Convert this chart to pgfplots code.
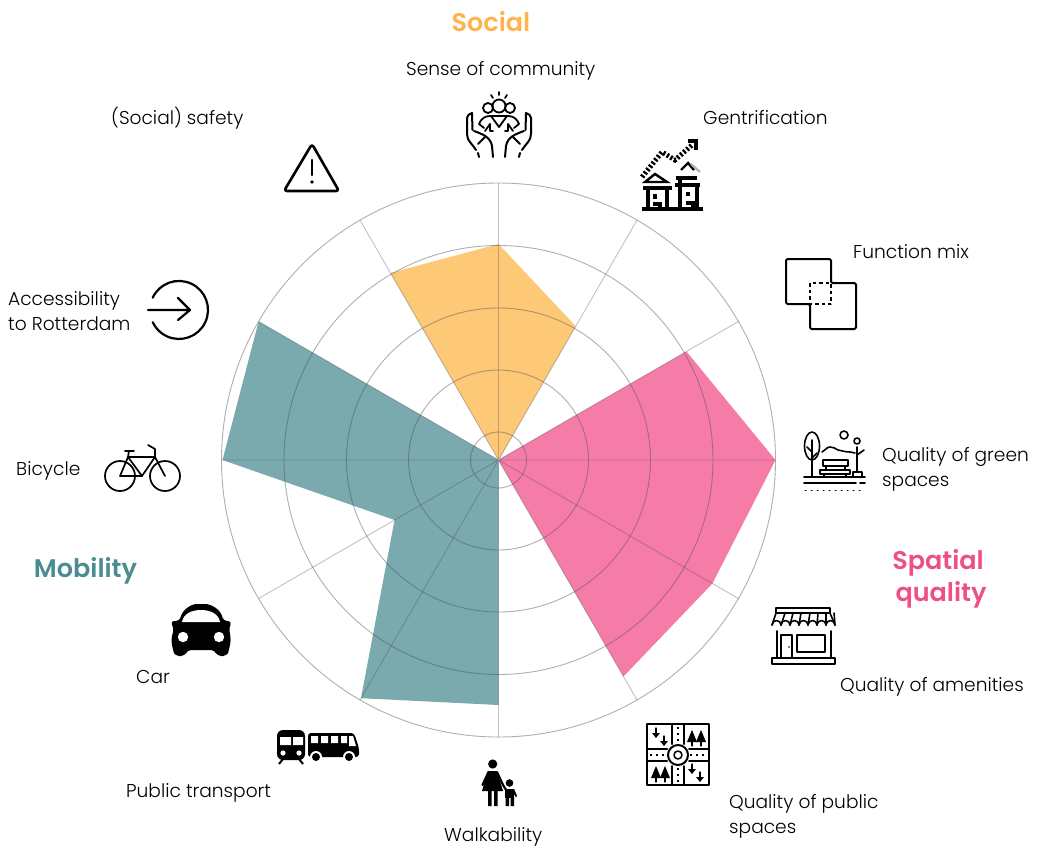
\documentclass[border=0pt]{standalone}
\usepackage{fontspec}
\setmainfont{Poppins Light}[BoldFont={Poppins SemiBold}]
\usepackage{pgfplots}
\pgfplotsset{compat=1.18}
\usepgfplotslibrary{polar}
\definecolor{socialfill}{HTML}{FDC977}
\definecolor{spatialfill}{HTML}{F57CA7}
\definecolor{mobfill}{HTML}{7AA9AE}
\definecolor{socialhead}{HTML}{FFB24E}
\definecolor{spatialhead}{HTML}{EE4F86}
\definecolor{mobhead}{HTML}{4B8B92}
\definecolor{gridc}{HTML}{4C4C5E}
\newcommand{\lab}[3]{\node[anchor=base west,inner sep=0pt,font=\fontsize{18.6}{18.6}\selectfont,text=black] at (#1,#2) {#3};}
\newcommand{\head}[4]{\node[anchor=base,inner sep=0pt,font=\fontsize{25.5}{25.5}\selectfont\bfseries,text=#4] at (#1,#2) {#3};}

\begin{document}
\begin{tikzpicture}
\path[use as bounding box] (0pt,0pt) rectangle (1046pt,-846pt);
\begin{polaraxis}[
    at={(498.5pt,-460pt)},
    anchor=center,
    scale only axis,
    width=554pt,
    height=554pt,
    xmin=0, xmax=360,
    ymin=0, ymax=277,
    xtick={0,30,...,330},
    ytick={28,90,152,214.5},
    xticklabels={},
    yticklabels={},
    major tick length=0pt,
    grid=major,
    clip=false,
    axis on top,
    axis line style={draw=gridc,draw opacity=0.45,line width=0.9pt},
    y axis line style={draw=none},
    major x grid style={draw=gridc,draw opacity=0.35,line width=0.9pt},
    major y grid style={draw=gridc,draw opacity=0.45,line width=0.9pt},
]
% social
\addplot[fill=socialfill,draw=none] coordinates {
    (0,0) (120,216) (90,216) (60,154.5)
} -- cycle;
% spatial quality
\addplot[fill=spatialfill,draw=none] coordinates {
    (0,0) (30,217) (0,277) (-30,247) (-60,250)
} -- cycle;
% mobility
\addplot[fill=mobfill,draw=none] coordinates {
    (0,0) (-90,245) (-120,275) (-150,120) (180,276) (150,277)
} -- cycle;
\end{polaraxis}

\begin{scope}[x=1pt,y=-1pt]
\head{491}{31}{Social}{socialhead}
\head{938}{569}{Spatial}{spatialhead}
\head{941}{601}{quality}{spatialhead}
\head{85.5}{577}{Mobility}{mobhead}

\lab{406}{75}{Sense of community}
\lab{111}{124}{(Social) safety}
\lab{703}{124}{Gentrification}
\lab{853}{258}{Function mix}
\lab{882}{461}{Quality of green}
\lab{882}{486}{spaces}
\lab{840}{691}{Quality of amenities}
\lab{729}{808}{Quality of public}
\lab{729}{833}{spaces}
\lab{444}{841}{Walkability}
\lab{126}{797}{Public transport}
\lab{136}{683}{Car}
\lab{16}{475}{Bicycle}
\lab{8}{305}{Accessibility}
\lab{8}{330}{to Rotterdam}

% icons, in picture pixels
\begin{scope}[line width=1.7pt,line cap=round,line join=round,black]
% community
\foreach \s in {1,-1}{
  \begin{scope}[shift={(499,0)},xscale=\s]
    \draw[line width=2pt] (-27,113) to[out=200,in=90] (-32,118) -- (-32,134) to[out=-90,in=120] (-23,150);
    \draw[line width=2pt] (-21,153) -- (-20,157);
    \draw[line width=2pt] (-27,113) -- (-26.5,130);
    \draw[line width=2pt] (-25,131) to[out=-20,in=100] (-7,146) -- (-6,157);
    \draw[line width=2pt] (-14,137) -- (-21,144);
  \end{scope}
}
\begin{scope}[line width=1.8pt]
\draw (499,106) circle (6.5);
\draw (488,108) circle (5);
\draw (510,108) circle (5);
\draw (484,128) -- (479,124) to[out=70,in=180] (490,116) -- (508,116) to[out=0,in=110] (519,124) -- (514,128);
\draw (491,116) -- (499,127) -- (507,116);
\draw (485,131) -- (490,124) -- (490,131) (513,131) -- (508,124) -- (508,131) (490,131) -- (493,131) (505,131) -- (508,131);
\end{scope}
\draw (499,92) -- (499,95) (491,95) -- (493,98) (507,95) -- (505,98);
% gentrification
\begin{scope}[line width=3.2pt,line cap=butt,line join=miter]
\draw (642,209) -- (703,209);
\draw (643,188) -- (672,188) (648,188) -- (648,209) (667,188) -- (667,209);
\draw (675,185) -- (700,185) (680,178) -- (680,209) (697,185) -- (697,209);
\draw (676,178) -- (697,178);
\draw[line width=2.4pt] (645,182) -- (667,182) -- (655,174) -- cycle;
\draw (655,194) -- (655,199) (653,204) -- (660,204) -- (660,209);
\draw (688,192) -- (688,196) (686,203) -- (693,203) -- (693,209);
\draw[line width=2.4pt] (681,170) -- (688,163) -- (694,170);
\draw[gray!60,line width=2.2pt] (691,164) -- (700,172);
\draw[line width=5pt,dash pattern=on 2.2pt off 2pt] (642,177) -- (662,152) -- (675,160) -- (692,145);
\draw (688,141) -- (696,141) -- (696,150);
\end{scope}
% warning
\draw[line width=2.6pt,rounded corners=3pt] (312,144) -- (339,191) -- (284,191) -- cycle;
\draw[line width=2.6pt] (312,160) -- (312,175);
\fill (312,182) circle (1.9);
% accessibility
\draw[line width=2.2pt] (152.7,297.7) arc[start angle=155,end angle=-155,radius=29pt];
\draw[line width=2.2pt] (148,310) -- (190,310) (178,298) -- (190,310) -- (178,320);
% bicycle
\draw (120,476) circle (15);
\draw (165,476) circle (15);
\draw (120,476) -- (142,476) -- (155,457) -- (128,457) -- cycle;
\draw (128,457) -- (142,476) (155,457) -- (165,476) (155,457) -- (155,449) -- (148,445);
\draw (125,451) -- (134,451) (129,451) -- (128,457);
% function mix
\draw[line width=2pt,rounded corners=1.5pt] (786,259) -- (831,259) -- (831,283) -- (856,283) -- (856,329) -- (810,329) -- (810,304) -- (786,304) -- cycle;
\draw[line width=1.8pt,dash pattern=on 3.5pt off 3pt,line cap=butt] (810,283) rectangle (831,304);
% green spaces
\begin{scope}[line width=1.6pt]
\draw (812,446) ellipse (7.5 and 14);
\draw (812,440) -- (812,477) (812,452) -- (807,447) (812,458) -- (817,453);
\draw (844,435) circle (4);
\draw (822,452) to[out=20,in=180] (830,447) to[out=0,in=150] (838,450) to[out=-10,in=180] (850,452) -- (855,453);
\draw (823,460) rectangle (848,466);
\draw (820,470) rectangle (850,474);
\draw (826,466) -- (826,470) (845,466) -- (845,470) (824,474) -- (824,477) (846,474) -- (846,477);
\draw (857,447) -- (857,472) (853,472) rectangle (862,477);
\draw (857,441) circle (3);
\draw (857,455) -- (864,450);
\draw (804,477) -- (865,477);
\draw (804,483) -- (856,483) (860,483) -- (865,483);
\draw[line width=1pt,dash pattern=on 1pt off 5pt] (805,490) -- (862,490);
\end{scope}
% store
\begin{scope}[line width=1.6pt]
\draw (776,613) -- (776,608) -- (830,608) -- (830,613);
\draw (776,613) -- (830,613);
\draw (776,613) -- (772,625);
\draw (830,613) -- (835,625);
\foreach \x/\t in {772/778,781/786,790/794,799/803,808/811,817/819,826/827}{
  \draw (\x,625) arc[start angle=180,end angle=360,radius=4.5];
  \draw (\x+9,625) -- (\t+7,613);
}
\draw (777,631) -- (777,658) (831,631) -- (831,658);
\draw (772,658) rectangle (835,664);
\draw (781,658) -- (781,635) -- (792,635) -- (792,658);
\draw (797,635) rectangle (825,652);
\fill (789,647) circle (0.9);
\end{scope}
% public spaces
\begin{scope}[line width=2pt]
\draw (647,724) rectangle (709,785);
\draw (672,724) -- (672,744) (684,724) -- (684,744) (672,766) -- (672,785) (684,766) -- (684,785);
\draw (647,749) -- (667,749) (647,761) -- (667,761) (689,749) -- (709,749) (689,761) -- (709,761);
\draw (678,755) circle (10);
\draw[line width=1.5pt] (678,755) circle (4);
\draw[line width=1.6pt,dash pattern=on 1.6pt off 4.5pt,line cap=butt] (678,727) -- (678,744) (678,768) -- (678,785) (650,755) -- (667,755) (690,755) -- (708,755);
\foreach \x/\y in {656/733,664/741,692/769,700/777}{
  \fill (\x-4,\y) -- (\x+4,\y) -- (\x,\y+5) -- cycle;
  \draw[line width=1.2pt] (\x,\y-5) -- (\x,\y);
}
\foreach \x/\y in {692/745,701/745,656/781,665/781}{
  \fill (\x-5,\y-3) -- (\x,\y-15) -- (\x+5,\y-3) -- cycle;
  \draw[line width=1.2pt] (\x,\y-3) -- (\x,\y+1);
}
\end{scope}
\end{scope}

% filled icons
% car
\fill[rounded corners=4pt] (170,621) -- (180,621) to[out=80,in=180] (201,604) to[out=0,in=100] (223,621) -- (232,621) -- (229,628) -- (231,640) -- (229,650) -- (227,656) -- (217,656) -- (215,650) -- (187,650) -- (185,656) -- (175,656) -- (173,650) -- (171,640) -- (174,628) -- cycle;
\fill[white] (182,622) to[out=80,in=180] (201,610) to[out=0,in=100] (220,622) -- cycle;
\fill[white] (183,637) circle (5.2) (219,637) circle (5.2);
% train
\fill[rounded corners=6pt] (277,760) rectangle (305,730);
\fill[white] (280,737) rectangle (291,745) (293,737) rectangle (303,745);
\fill[white] (283,753) circle (2.6) (299,753) circle (2.6);
\draw[line width=2pt] (283,759) -- (279,764) (299,759) -- (303,764);
% bus
\fill[rounded corners=3pt] (308,733) -- (354,733) -- (359,748) -- (359,757) -- (308,757) -- cycle;
\fill[white] (311,736) rectangle (318,743) (321,736) rectangle (328,743) (331,736) rectangle (338,743) (341,736) rectangle (347,743);
\fill[white] (349,736) -- (353,736) -- (356,746) -- (349,746) -- cycle;
\fill[white] (316,757) circle (6) (349,757) circle (6);
\fill (316,757) circle (4) (349,757) circle (4);
% walkability
\fill (492.7,764) circle (4.6);
\fill (488,771) -- (497,771) -- (503,791) -- (482,791) -- cycle;
\fill (488,790) rectangle (491.5,806) (494,790) rectangle (497.5,806);
\draw[line width=2.2pt,line cap=round] (488.5,772) -- (482.5,785) (497,772) -- (503,785) -- (508,793);
\fill (509.5,783) circle (3.8);
\fill (505,788.5) rectangle (514,798);
\fill (505.5,797) rectangle (509,806) (510.5,797) rectangle (514,806);
\draw[line width=2pt,line cap=round] (513.5,790) -- (516,796);
\end{scope}
\end{tikzpicture}
\end{document}
